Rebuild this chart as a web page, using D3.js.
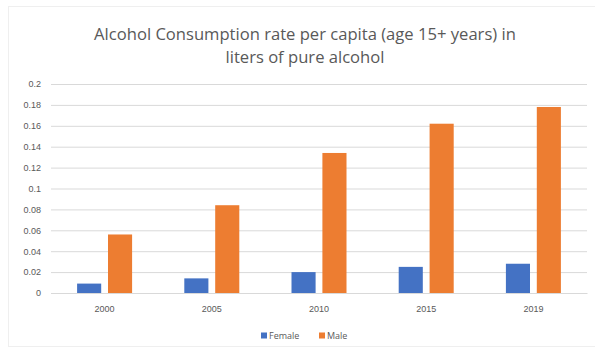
<!DOCTYPE html>
<html>
<head>
<meta charset="utf-8">
<script src="https://cdn.jsdelivr.net/npm/d3@7"></script>
<style>
  body { margin: 0; background: #fff; }
  svg { display: block; font-family: "Open Sans", sans-serif; }
</style>
</head>
<body>
<svg id="chart" width="595" height="356"></svg>
<script>
var years = ["2000", "2005", "2010", "2015", "2019"];
var seriesNames = ["Female", "Male"];
var female = [0.009, 0.014, 0.020, 0.025, 0.028];
var male = [0.056, 0.084, 0.134, 0.162, 0.178];
var yTicks = [0, 0.02, 0.04, 0.06, 0.08, 0.1, 0.12, 0.14, 0.16, 0.18, 0.2];
var colours = ["#4472C4", "#ED7D31"];

var width = 595;
var height = 356;
var margin = { top: 84, right: 8, bottom: 63, left: 51 };

var svg = d3.select("#chart");

// faint chart border
svg
  .append("rect")
  .attr("x", 8.5)
  .attr("y", 6.5)
  .attr("width", 600)
  .attr("height", 340)
  .attr("fill", "none")
  .attr("stroke", "#efefef");

var x = d3
  .scaleBand()
  .domain(years)
  .range([margin.left, width - margin.right]);

var x1 = d3
  .scaleBand()
  .domain(seriesNames)
  .range([0, 55])
  .paddingInner(0.22);

var y = d3
  .scaleLinear()
  .domain([0, 0.2])
  .range([height - margin.bottom, margin.top]);

// gridlines + y labels
var yAxis = d3
  .axisLeft(y)
  .tickValues(yTicks)
  .tickSize(-(width - margin.left - margin.right))
  .tickPadding(10)
  .tickFormat(function (d) {
    return d === 0 ? "0" : String(+d.toFixed(2));
  });

var gy = svg
  .append("g")
  .attr("transform", "translate(" + margin.left + ",0)")
  .call(yAxis);
gy.select(".domain").remove();
gy.selectAll(".tick line").attr("stroke", "#d9d9d9");
gy.selectAll(".tick text")
  .attr("fill", "#595959")
  .style("font-size", "9px");

// x labels
var xAxis = d3.axisBottom(x).tickSize(0).tickPadding(13);
var gx = svg
  .append("g")
  .attr("transform", "translate(0," + (height - margin.bottom) + ")")
  .call(xAxis);
gx.select(".domain").attr("stroke", "#d9d9d9");
gx.selectAll(".tick text")
  .attr("fill", "#595959")
  .style("font-size", "9px");

var rows = years.map(function (yr, i) {
  return { year: yr, values: [female[i], male[i]] };
});

var groups = svg
  .append("g")
  .selectAll("g")
  .data(rows)
  .join("g")
  .attr("transform", function (d) {
    return "translate(" + (x(d.year) + (x.bandwidth() - 55) / 2) + ",0)";
  });

groups
  .selectAll("rect")
  .data(function (d) {
    return d.values.map(function (v, j) {
      return { name: seriesNames[j], value: v, c: colours[j] };
    });
  })
  .join("rect")
  .attr("x", function (d) {
    return x1(d.name);
  })
  .attr("width", x1.bandwidth())
  .attr("y", function (d) {
    return y(d.value);
  })
  .attr("height", function (d) {
    return y(0) - y(d.value);
  })
  .attr("fill", function (d) {
    return d.c;
  });

// title
var title = svg
  .append("text")
  .attr("text-anchor", "middle")
  .attr("fill", "#595959")
  .style("font-size", "16.6px");
title
  .append("tspan")
  .attr("x", 305)
  .attr("y", 40)
  .text("Alcohol Consumption rate per capita (age 15+ years) in");
title
  .append("tspan")
  .attr("x", 305)
  .attr("y", 63)
  .text("liters of pure alcohol");

// legend
var legend = svg
  .append("g")
  .selectAll("g")
  .data(seriesNames)
  .join("g")
  .attr("transform", function (d, i) {
    return "translate(" + (261 + i * 58) + ",336)";
  });
legend
  .append("rect")
  .attr("x", 0)
  .attr("y", -3.5)
  .attr("width", 6)
  .attr("height", 6)
  .attr("fill", function (d, i) {
    return colours[i];
  });
legend
  .append("text")
  .attr("x", 8)
  .attr("y", 3)
  .attr("fill", "#595959")
  .style("font-size", "9px")
  .text(function (d) {
    return d;
  });
</script>
</body>
</html>
